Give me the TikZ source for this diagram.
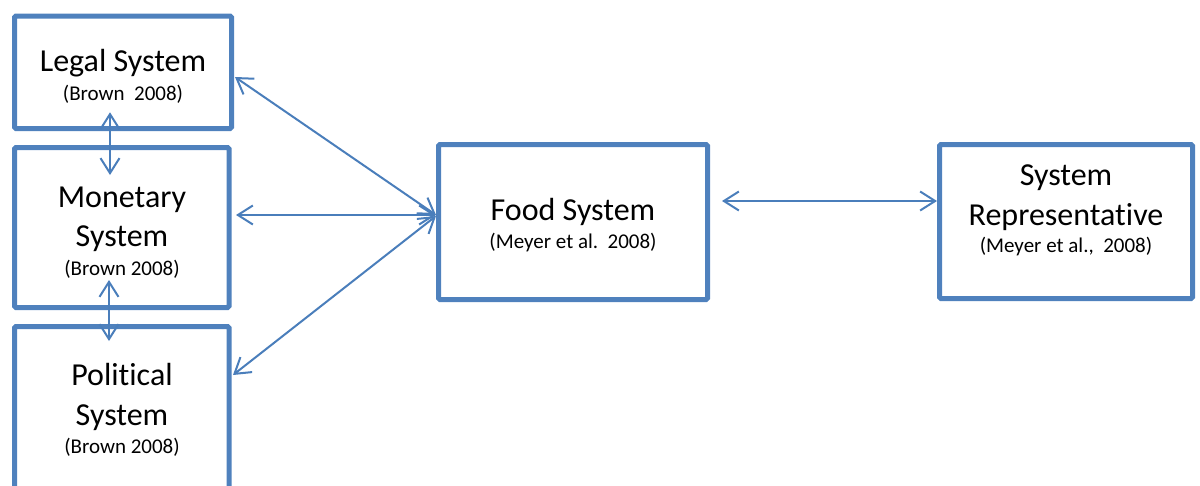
\documentclass[tikz,border=0pt]{standalone}
\usepackage{fontspec}
\setmainfont{Carlito}[Ligatures=NoCommon]
\usetikzlibrary{arrows.meta,calc}
\definecolor{boxblue}{HTML}{4F81BD}
\definecolor{linkblue}{HTML}{4A7EBB}
% gap before the year in the citations
\newcommand{\yrgap}{\hspace{0.45em}}
\begin{document}
\begin{tikzpicture}[x=1pt,y=-1pt,
  sysbox/.style={draw=boxblue, line width=5pt, rounded corners=1.5pt, outer sep=0pt, inner sep=0pt},
  link/.style={draw=linkblue, line width=2pt, line cap=round,
    {Straight Barb[length=15pt,width=19pt]}-{Straight Barb[length=15pt,width=19pt]}},
  maintext/.style={anchor=base, font=\fontsize{32}{36}\selectfont, inner sep=0pt},
  subtext/.style={anchor=base, font=\fontsize{21}{24}\selectfont, inner sep=0pt}]
\useasboundingbox (0,0) rectangle (1200,485);
\clip (0,0) rectangle (1200,485);

% system boxes
\node[sysbox, minimum width=217pt,  minimum height=112.5pt] (legal) at (123,72.25) {};
\node[sysbox, minimum width=214.5pt, minimum height=160pt]  (monetary) at (121.75,227.5) {};
\node[sysbox, minimum width=214.5pt, minimum height=168.5pt] (political) at (121.75,410.75) {};
\node[sysbox, minimum width=269pt,  minimum height=155pt]   (food) at (573,222) {};
\node[sysbox, minimum width=253pt,  minimum height=154pt]   (rep) at (1066,221.5) {};

% labels
\node[maintext] (legalA) at (123,71) {Legal System};
\node[subtext]  (legalB) at (123,100) {(Brown\yrgap 2008)};

\node[maintext] (monA) at (122,207) {Monetary};
\node[maintext] (monB) at (122,246) {System};
\node[subtext]  (monC) at (122,275) {(Brown 2008)};

\node[maintext] (polA) at (122,385) {Political};
\node[maintext] (polB) at (122,425) {System};
\node[subtext]  (polC) at (122,453) {(Brown 2008)};

\node[maintext] (foodA) at (573,220) {Food System};
\node[subtext]  (foodB) at (573,248) {(Meyer et al.\yrgap 2008)};

\node[maintext] (repA) at (1066,185) {System};
\node[maintext] (repB) at (1066,225) {Representative};
\node[subtext]  (repC) at (1066,252) {(Meyer et al.,\yrgap 2008)};

% two-way links
\draw[link] ($(legal.east)+(3.5,4.75)$) -- ($(food.west)+(-2.5,-7)$);
\draw[link] ($(monetary.east)+(7,-12.5)$) -- ($(food.west)+(-2.5,-7)$);
\draw[link] ($(political.east)+(4,-35.75)$) -- ($(food.west)+(-2.5,-6)$);
\draw[link] ($(food.east)+(14.5,-21)$) -- ($(rep.west)+(-2.5,-20.5)$);
\draw[link] ($(legal.south)+(-13,-16.25)$) -- ($(monetary.north)+(-11.75,27.5)$);
\draw[link] ($(monetary.south)+(-12.75,-27.5)$) -- ($(political.north)+(-12.75,14.5)$);
\end{tikzpicture}
\end{document}
